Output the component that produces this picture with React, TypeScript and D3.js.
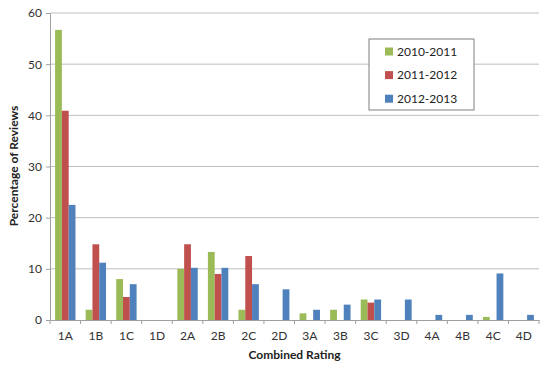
import * as d3 from 'd3';
import { useEffect, useRef } from 'react';

const categories = ['1A', '1B', '1C', '1D', '2A', '2B', '2C', '2D', '3A', '3B', '3C', '3D', '4A', '4B', '4C', '4D'];
const seriesNames = ['2010-2011', '2011-2012', '2012-2013'];
const colors = ['#9BBB59', '#C0504D', '#4F81BD'];
const values2010 = [56.7, 2, 8, 0, 10, 13.3, 2, 0, 1.3, 2, 4, 0, 0, 0, 0.6, 0];
const values2011 = [40.9, 14.8, 4.5, 0, 14.8, 9, 12.5, 0, 0, 0, 3.4, 0, 0, 0, 0, 0];
const values2012 = [22.5, 11.2, 7, 0, 10.2, 10.2, 7, 6, 2, 3, 4, 4, 1, 1, 9.1, 1];
const yTicks = [0, 10, 20, 30, 40, 50, 60];

const W = 556;
const H = 369;
const margin = { left: 50, right: 17, top: 13, bottom: 49 };
const font = 'Lato, "Open Sans", sans-serif';

export default function App() {
  const svgRef = useRef(null);

  useEffect(() => {
    const svg = d3.select(svgRef.current);
    svg.selectAll('*').remove();
    const series = [values2010, values2011, values2012];

    const x = d3
      .scaleBand()
      .domain(categories)
      .range([margin.left, W - margin.right]);
    const inner = d3
      .scaleBand()
      .domain(seriesNames)
      .range([x.bandwidth() / 6, (x.bandwidth() * 5) / 6]);
    const y = d3
      .scaleLinear()
      .domain([0, 60])
      .range([H - margin.bottom, margin.top]);

    // gridlines
    svg
      .append('g')
      .selectAll('line')
      .data(yTicks.slice(1))
      .enter()
      .append('line')
      .attr('x1', margin.left)
      .attr('x2', W - margin.right)
      .attr('y1', (d) => y(d))
      .attr('y2', (d) => y(d))
      .style('stroke', '#BEBEBE')
      .style('stroke-width', 1);

    // bars
    series.forEach((vals, i) => {
      svg
        .append('g')
        .selectAll('rect')
        .data(vals)
        .enter()
        .append('rect')
        .attr('x', (_d, j) => (x(categories[j]) as number) + (inner(seriesNames[i]) as number))
        .attr('y', (d) => y(d))
        .attr('width', inner.bandwidth())
        .attr('height', (d) => y(0) - y(d))
        .style('fill', colors[i]);
    });

    // y axis
    const yAxis = svg
      .append('g')
      .attr('transform', 'translate(' + margin.left + ',0)')
      .call(d3.axisLeft(y).tickValues(yTicks).tickSize(4).tickPadding(4));
    yAxis.select('.domain').style('stroke', '#A0A0A0');
    yAxis.selectAll('line').style('stroke', '#A0A0A0');
    yAxis.selectAll('text').style('font-family', font).style('font-size', '12px').style('fill', '#333');

    // x axis
    const xAxis = svg
      .append('g')
      .attr('transform', 'translate(0,' + y(0) + ')')
      .call(d3.axisBottom(x).tickSize(0).tickPadding(11));
    xAxis.select('.domain').style('stroke', '#A0A0A0');
    xAxis.selectAll('text').style('font-family', font).style('font-size', '12px').style('fill', '#333');
    xAxis
      .selectAll('.sep')
      .data(categories.concat(['end']))
      .enter()
      .append('line')
      .attr('x1', (_d, j) => margin.left + j * x.step())
      .attr('x2', (_d, j) => margin.left + j * x.step())
      .attr('y1', 0)
      .attr('y2', 4)
      .style('stroke', '#A0A0A0');

    // axis titles
    svg
      .append('text')
      .attr('x', (margin.left + W - margin.right) / 2)
      .attr('y', 359)
      .attr('text-anchor', 'middle')
      .style('font-family', font)
      .style('font-weight', 'bold')
      .style('font-size', '12px')
      .style('fill', '#222')
      .text('Combined Rating');

    svg
      .append('text')
      .attr('text-anchor', 'middle')
      .attr('transform', 'translate(18,' + 166 + ')rotate(-90)')
      .style('font-family', font)
      .style('font-weight', 'bold')
      .style('font-size', '12px')
      .style('fill', '#222')
      .text('Percentage of Reviews');

    // legend
    const legend = svg.append('g').attr('transform', 'translate(369,39)');
    legend
      .append('rect')
      .attr('width', 105)
      .attr('height', 71)
      .style('fill', '#fff')
      .style('stroke', '#7F7F7F')
      .style('stroke-width', 1);
    seriesNames.forEach((name, i) => {
      const gy = 12.5 + i * 23.6;
      legend
        .append('rect')
        .attr('x', 16)
        .attr('y', gy - 4)
        .attr('width', 8)
        .attr('height', 8)
        .style('fill', colors[i]);
      legend
        .append('text')
        .attr('x', 28)
        .attr('y', gy)
        .attr('dy', '0.35em')
        .style('font-family', font)
        .style('font-size', '12px')
        .style('fill', '#222')
        .text(name);
    });
  }, []);

  return (
    <div style={{ position: 'absolute', left: 0, top: 0 }}>
      <svg ref={svgRef} width={W} height={H} style={{ display: 'block', background: '#fff' }}></svg>
    </div>
  );
}
